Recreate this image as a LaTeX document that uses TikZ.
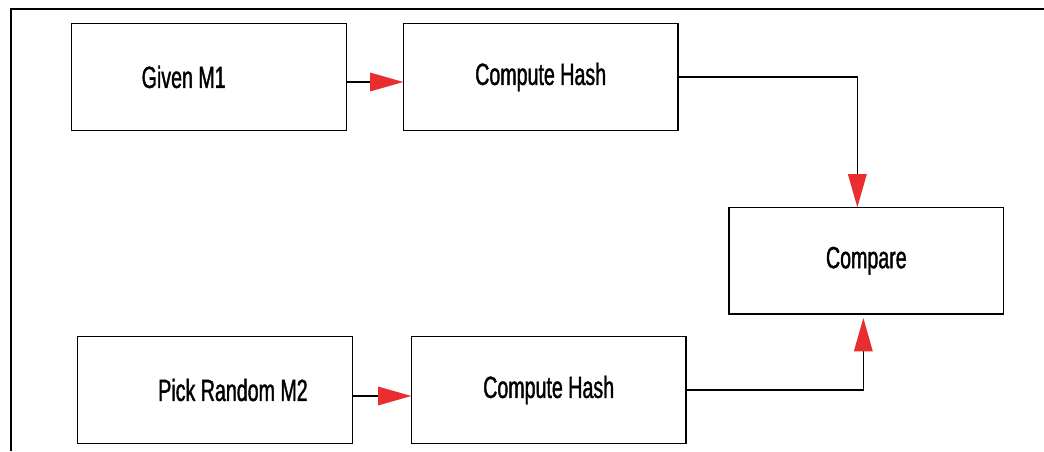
\documentclass[tikz,border=0pt]{standalone}
\usepackage{fontspec}
\newfontfamily\condsf{Liberation Sans}[FakeStretch=0.64,FakeBold=1.2]
\usetikzlibrary{arrows.meta,positioning}
\definecolor{tipred}{RGB}{232,46,46}
\tikzset{
  blk/.style ={draw,line width=1.1pt,minimum width=206pt,minimum height=80pt,
               inner sep=0pt,outer sep=0pt,font=\condsf\fontsize{23}{26}\selectfont},
  txt/.style ={font=\condsf\fontsize{23}{26}\selectfont,inner sep=0pt},
  ar/.style  ={line width=1pt,-{Triangle[length=25pt,width=14pt,color=tipred]}},
  frm/.style ={line width=1.1pt},
}

\begin{document}
\begin{tikzpicture}[x=0.75pt,y=-0.75pt]
\useasboundingbox (0,0) rectangle (1044,451);
\draw[frm] (11,451) -- (11,9) -- (1044,9);
\node[blk,label={[txt,xshift=-19pt]center:Given M1}] (given) at (209,77) {};
\node[blk,right=42.75pt of given] (hashA) {Compute Hash};
\node[blk,below right=57.75pt and 38.25pt of hashA] (cmp) {Compare};
\node[blk,label={[txt,xshift=13.5pt]center:Pick Random M2}] (pick) at (215,390) {};
\node[blk,right=44.25pt of pick] (hashB) {Compute Hash};
\draw[ar] ([yshift=-3.75pt]given.east) -- ([yshift=-3.75pt]hashA.west);
\draw[ar] (hashA.east) -| ([xshift=-6.75pt]cmp.north);
\draw[ar,shorten >=3pt] (hashB.east) -| ([xshift=-2.25pt]cmp.south);
\draw[ar] ([yshift=-4.5pt]pick.east) -- ([yshift=-4.5pt]hashB.west);
\end{tikzpicture}
\end{document}
